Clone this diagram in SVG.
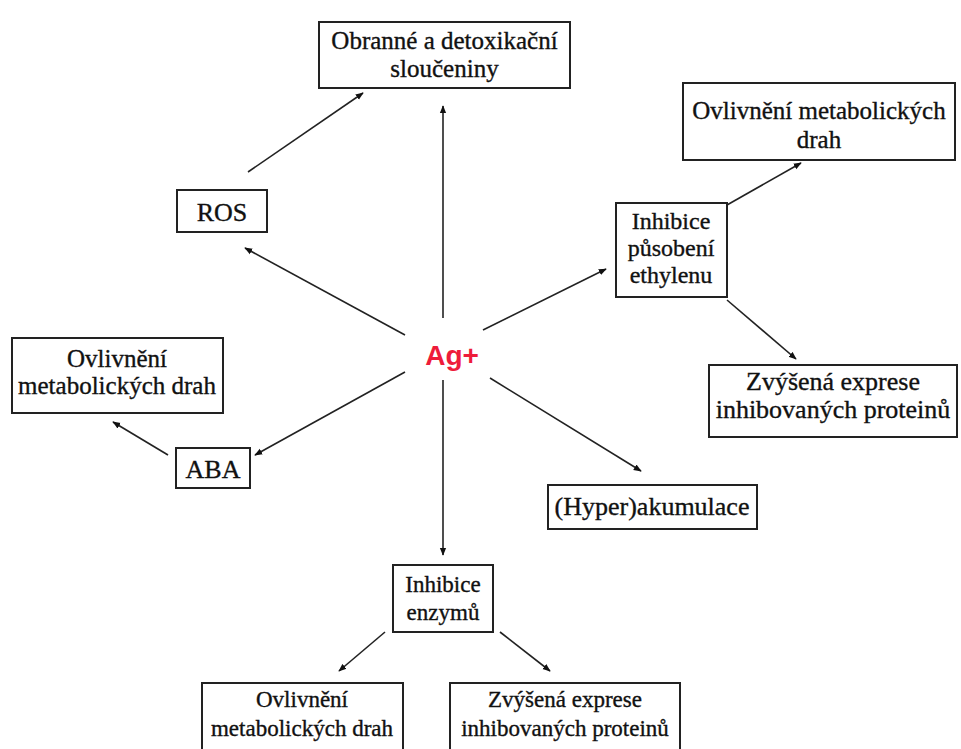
<svg xmlns="http://www.w3.org/2000/svg" width="961" height="749" viewBox="0 0 961 749">
<style>
.box{fill:#fff;stroke:#222;stroke-width:2}
.t{font-family:"Liberation Serif","Times New Roman",serif;font-size:23px;fill:#111;stroke:#111;stroke-width:0.35;text-anchor:middle}
.c{stroke:#222;stroke-width:1.6;fill:none;marker-end:url(#ah)}
</style>
<defs>
<marker id="ah" viewBox="0 0 10 10" refX="9" refY="5" markerWidth="8" markerHeight="8" markerUnits="userSpaceOnUse" orient="auto">
<path d="M0,1 L10,5 L0,9 Z" fill="#111"/>
</marker>
</defs>
<rect width="961" height="749" fill="#fff"/>
<g id="connectors">
<line class="c" x1="443" y1="318" x2="443" y2="106"/>
<line class="c" x1="248" y1="172" x2="363" y2="93"/>
<line class="c" x1="405" y1="335" x2="245" y2="248"/>
<line class="c" x1="483" y1="330" x2="606" y2="269"/>
<line class="c" x1="727" y1="205" x2="801" y2="163"/>
<line class="c" x1="727" y1="300" x2="796" y2="359"/>
<line class="c" x1="405" y1="372" x2="255" y2="455"/>
<line class="c" x1="168" y1="455" x2="113" y2="422"/>
<line class="c" x1="490" y1="378" x2="641" y2="471"/>
<line class="c" x1="443" y1="380" x2="443" y2="555"/>
<line class="c" x1="385" y1="632" x2="339" y2="671"/>
<line class="c" x1="500" y1="632" x2="550" y2="671"/>
</g>
<g id="agplus"><text x="452" y="365" font-family="Liberation Sans,Arial,sans-serif" font-size="28" font-weight="bold" fill="#ee1c3a" text-anchor="middle">Ag+</text></g>
<g id="obranne"><rect class="box" x="319" y="22" width="251" height="66"/><text class="t" style="font-size:25px" x="444.5" y="49">Obranné a detoxikační</text><text class="t" style="font-size:25px" x="444.5" y="77">sloučeniny</text></g>
<g id="ros"><rect class="box" x="177" y="190" width="90" height="42"/><text class="t" style="font-size:26px" x="222" y="221">ROS</text></g>
<g id="ethylen"><rect class="box" x="616" y="203" width="111" height="94"/><text class="t" style="font-size:24px" x="671" y="229">Inhibice</text><text class="t" style="font-size:24px" x="671" y="256">působení</text><text class="t" style="font-size:24px" x="671" y="283">ethylenu</text></g>
<g id="ovlivneni1"><rect class="box" x="683" y="83" width="272" height="77"/><text class="t" style="font-size:25px" x="819" y="119">Ovlivnění metabolických</text><text class="t" style="font-size:25px" x="819" y="148">drah</text></g>
<g id="zvysena1"><rect class="box" x="709" y="365" width="248" height="72"/><text class="t" style="font-size:26px" x="833" y="390">Zvýšená exprese</text><text class="t" style="font-size:26px" x="833" y="418">inhibovaných proteinů</text></g>
<g id="ovlivneni2"><rect class="box" x="12" y="338" width="211" height="75"/><text class="t" style="font-size:25px" x="117" y="367">Ovlivnění</text><text class="t" style="font-size:25px" x="117" y="394">metabolických drah</text></g>
<g id="aba"><rect class="box" x="176" y="448" width="74" height="40"/><text class="t" style="font-size:26px" x="213" y="478">ABA</text></g>
<g id="hyper"><rect class="box" x="548" y="485" width="209" height="44"/><text class="t" style="font-size:26px" x="652" y="515">(Hyper)akumulace</text></g>
<g id="enzymy"><rect class="box" x="393" y="565" width="100" height="67"/><text class="t" x="443" y="592">Inhibice</text><text class="t" x="443" y="620">enzymů</text></g>
<g id="ovlivneni3"><rect class="box" x="202" y="683" width="201" height="75"/><text class="t" x="302" y="707">Ovlivnění</text><text class="t" x="302" y="736">metabolických drah</text></g>
<g id="zvysena2"><rect class="box" x="450" y="683" width="230" height="75"/><text class="t" x="565" y="707">Zvýšená exprese</text><text class="t" x="565" y="736">inhibovaných proteinů</text></g>
</svg>
